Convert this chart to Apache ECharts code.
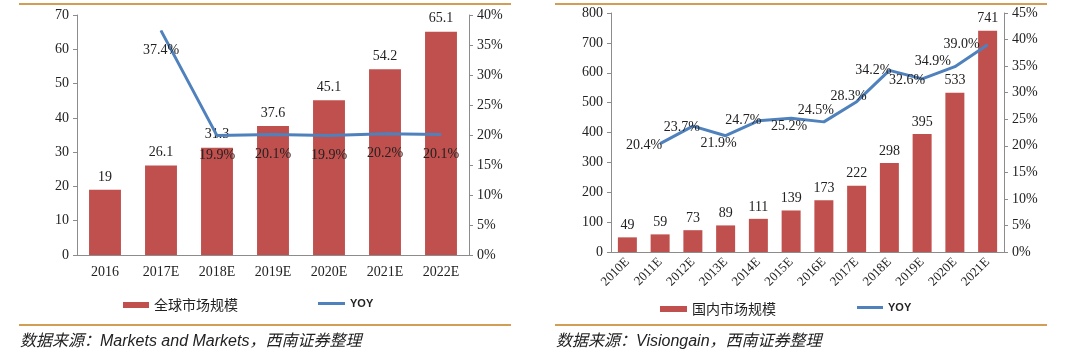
<!DOCTYPE html>
<html><head><meta charset="utf-8">
<script src="https://cdn.jsdelivr.net/npm/echarts@6/dist/echarts.min.js"></script>
<style>html,body{margin:0;padding:0;background:#fff}#c{width:1080px;height:359px}</style>
</head><body><div id="c"></div>
<script>
// Left chart data
const leftCategories = ['2016','2017E','2018E','2019E','2020E','2021E','2022E'];
const leftMarket = [19, 26.1, 31.3, 37.6, 45.1, 54.2, 65.1];
const leftYoy = [null, 37.4, 19.9, 20.1, 19.9, 20.2, 20.1];
const leftValueTicks = [0,10,20,30,40,50,60,70];
const leftPctTicks = [0,5,10,15,20,25,30,35,40];
// Right chart data
const rightCategories = ['2010E','2011E','2012E','2013E','2014E','2015E','2016E','2017E','2018E','2019E','2020E','2021E'];
const rightMarket = [49, 59, 73, 89, 111, 139, 173, 222, 298, 395, 533, 741];
const rightYoy = [null, 20.4, 23.7, 21.9, 24.7, 25.2, 24.5, 28.3, 34.2, 32.6, 34.9, 39.0];
const rightValueTicks = [0,100,200,300,400,500,600,700,800];
const rightPctTicks = [0,5,10,15,20,25,30,35,40,45];

const RED = '#C0504D', BLUE = '#4F81BD', AXIS = '#8C8C8C', GOLD = '#D29E55';
const SERIF = '"Liberation Serif","Times New Roman",serif';

// label offsets (layout only) for right YOY labels
const rightLabelOffsets = [null,[-16,2],[-11,1],[-7,8],[-15,0],[-2,8],[-8,-12],[-8,-5],[-16,0],[-15,1],[-22,-5],[-26,-1]];

function valAxis(gridIndex, ticks, pct, pos) {
  return {
    type: 'value', gridIndex, position: pos,
    min: ticks[0], max: ticks[ticks.length-1], interval: ticks[1]-ticks[0],
    axisLine: {show: true, lineStyle: {color: AXIS, width: 1}},
    axisTick: {show: true, length: 4, lineStyle: {color: AXIS}},
    splitLine: {show: false},
    axisLabel: {color: '#222', fontFamily: SERIF, fontSize: 14, margin: 8,
      formatter: pct ? (v => v + '%') : (v => v)}
  };
}

const option = {
  animation: false,
  grid: [
    {left: 77, right: 611, top: 15, bottom: 104},
    {left: 611, right: 76, top: 13, bottom: 107}
  ],
  xAxis: [
    {type: 'category', gridIndex: 0, data: leftCategories,
     axisLine: {lineStyle: {color: AXIS}}, axisTick: {show: false},
     axisLabel: {color: '#222', fontFamily: SERIF, fontSize: 14, margin: 10}},
    {type: 'category', gridIndex: 1, data: rightCategories,
     axisLine: {lineStyle: {color: AXIS}}, axisTick: {show: false},
     axisLabel: {color: '#222', fontFamily: SERIF, fontSize: 13, rotate: 45, margin: 8}}
  ],
  yAxis: [
    valAxis(0, leftValueTicks, false, 'left'),
    valAxis(0, leftPctTicks, true, 'right'),
    valAxis(1, rightValueTicks, false, 'left'),
    valAxis(1, rightPctTicks, true, 'right')
  ],
  legend: [
    {left: 123, top: 298, padding: 0, data: ['全球市场规模'], icon: 'rect', itemWidth: 26, itemHeight: 6,
     textStyle: {fontFamily: '"Noto Sans CJK SC"', fontSize: 14, color: '#222'}},
    {left: 318, top: 298, padding: 0, data: ['YOY'], icon: 'rect', itemWidth: 27, itemHeight: 3,
     textStyle: {fontFamily: '"Liberation Sans",Arial', fontSize: 11, fontWeight: 'bold', color: '#222'}},
    {left: 660, top: 302, padding: 0, data: ['国内市场规模'], icon: 'rect', itemWidth: 27, itemHeight: 6,
     textStyle: {fontFamily: '"Noto Sans CJK SC"', fontSize: 14, color: '#222'}},
    {left: 857, top: 302, padding: 0, data: ['YOY'], icon: 'rect', itemWidth: 26, itemHeight: 3,
     textStyle: {fontFamily: '"Liberation Sans",Arial', fontSize: 11, fontWeight: 'bold', color: '#222'}}
  ],
  series: [
    {name: '全球市场规模', type: 'bar', xAxisIndex: 0, yAxisIndex: 0, data: leftMarket,
     barWidth: '57%', itemStyle: {color: RED},
     label: {show: true, position: 'top', distance: 6, color: '#222', fontFamily: SERIF, fontSize: 14}},
    {name: 'YOY', type: 'line', xAxisIndex: 0, yAxisIndex: 1, data: leftYoy,
     symbol: 'circle', symbolSize: 1, lineStyle: {color: BLUE, width: 3}, itemStyle: {color: BLUE},
     label: {show: true, position: 'inside', offset: [0, 20], color: '#222', fontFamily: SERIF, fontSize: 14,
       formatter: p => p.value.toFixed(1) + '%'}},
    {name: '国内市场规模', type: 'bar', xAxisIndex: 1, yAxisIndex: 2, data: rightMarket,
     barWidth: '58%', itemStyle: {color: RED},
     label: {show: true, position: 'top', distance: 5, color: '#222', fontFamily: SERIF, fontSize: 14}},
    {name: 'YOY', type: 'line', xAxisIndex: 1, yAxisIndex: 3,
     data: rightYoy.map((v, i) => v == null ? null : {value: v, label: {offset: rightLabelOffsets[i]}}),
     symbol: 'circle', symbolSize: 1, lineStyle: {color: BLUE, width: 3}, itemStyle: {color: BLUE},
     label: {show: true, position: 'inside', color: '#222', fontFamily: SERIF, fontSize: 14,
       formatter: p => p.value.toFixed(1) + '%'}}
  ],
  graphic: [
    {type: 'line', shape: {x1: 19, y1: 4, x2: 511, y2: 4}, style: {stroke: GOLD, lineWidth: 2}},
    {type: 'line', shape: {x1: 19, y1: 325, x2: 511, y2: 325}, style: {stroke: GOLD, lineWidth: 2}},
    {type: 'line', shape: {x1: 555, y1: 4, x2: 1047, y2: 4}, style: {stroke: GOLD, lineWidth: 2}},
    {type: 'line', shape: {x1: 555, y1: 325, x2: 1047, y2: 325}, style: {stroke: GOLD, lineWidth: 2}},
    {type: 'text', left: 20, top: 334, style: {text: '数据来源：Markets and Markets，西南证券整理',
      font: 'italic 16px "Liberation Sans","Noto Sans CJK SC"', fill: '#222'}},
    {type: 'text', left: 556, top: 334, style: {text: '数据来源：Visiongain，西南证券整理',
      font: 'italic 16px "Liberation Sans","Noto Sans CJK SC"', fill: '#222'}}
  ]
};
echarts.init(document.getElementById('c')).setOption(option);
</script></body></html>
